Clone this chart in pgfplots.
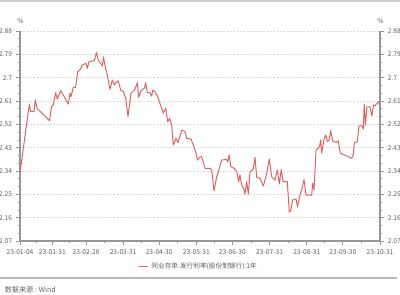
\documentclass[border=0pt]{standalone}
\usepackage{pgfplots}
\pgfplotsset{compat=1.18}
\usepackage{pgfplotstable}
\usepackage{fontspec}
\setmainfont{Noto Sans CJK SC}
\definecolor{linered}{RGB}{222,100,100}
\definecolor{axgray}{RGB}{150,150,150}
\definecolor{txtgray}{RGB}{95,95,95}
\definecolor{gridgray}{RGB}{218,218,218}

\pgfplotstableread{
day val
0 2.333
7.8 2.598
8.75 2.569
11.7 2.569
12.75 2.614
14.2 2.582
24.6 2.534
26.25 2.588
27.75 2.595
29.75 2.642
31.1 2.617
33.9 2.650
36.1 2.633
40.25 2.598
41.7 2.640
42.5 2.627
44.4 2.663
46.4 2.663
48.1 2.723
50 2.730
51.9 2.749
55 2.755
56.1 2.736
57.5 2.762
61.9 2.765
63.75 2.797
65.25 2.768
68.6 2.745
69.6 2.780
71.4 2.732
72.25 2.723
75 2.655
76.9 2.691
78.6 2.672
80.6 2.684
81.9 2.688
83.9 2.652
86.1 2.646
88.1 2.620
90 2.550
92.5 2.640
95.8 2.655
97.75 2.681
98.9 2.624
100.8 2.650
103.6 2.659
104.75 2.681
106.1 2.642
108.3 2.642
109.75 2.629
110.6 2.652
112.5 2.646
114.75 2.627
117.5 2.588
119.4 2.563
121.4 2.582
123.1 2.530
124.75 2.543
126.4 2.517
127.75 2.440
130 2.466
131.7 2.449
134.75 2.498
137.5 2.492
138.9 2.466
142.5 2.463
144.4 2.440
146.4 2.414
147.9 2.382
150 2.394
151.4 2.395
154.2 2.350
158.3 2.350
159.75 2.344
161.7 2.263
163.9 2.318
165.25 2.337
168.1 2.382
171.9 2.385
173.1 2.376
174.4 2.402
175.6 2.357
178.6 2.350
180.6 2.337
182.25 2.299
183.3 2.325
184.75 2.286
186.9 2.267
187.5 2.251
188.9 2.299
190.25 2.251
191.7 2.337
194.4 2.347
195.8 2.393
197.25 2.316
200 2.312
202.75 2.282
205 2.318
207.75 2.386
209.75 2.318
212.5 2.305
214.4 2.344
216.1 2.290
217.75 2.346
219.2 2.299
222.75 2.299
224.4 2.182
225.6 2.186
227.1 2.228
230 2.232
231.25 2.202
233.3 2.247
234.75 2.267
236.7 2.307
238.3 2.247
243.1 2.247
243.9 2.293
245 2.267
246.7 2.421
248.6 2.428
249.6 2.434
250.6 2.460
251.4 2.409
253.6 2.467
254.75 2.479
256.25 2.453
257.75 2.462
258.9 2.496
260.6 2.456
263.3 2.450
265.25 2.456
266.9 2.409
276.4 2.389
277.75 2.402
278.6 2.449
281.1 2.453
282.5 2.514
285 2.514
286.1 2.502
286.8 2.598
287.9 2.517
289 2.587
291.7 2.587
293.2 2.552
294.6 2.595
295.8 2.591
297.25 2.600
298.75 2.607
300 2.582
}\datatable

\begin{document}
\begin{tikzpicture}
\path[use as bounding box] (0,0) rectangle (300pt,221.25pt);
\draw[gray!40, line width=1.6pt] (0,220.2pt) -- (300pt,220.2pt);
\draw[gray!55, line width=0.8pt] (0,12.75pt) -- (298pt,12.75pt);
\node[anchor=west, text=txtgray, font=\fontsize{5.3}{6}\selectfont, inner sep=0pt] at (3.5pt,3.8pt) {数据来源 : Wind};
\node[text=txtgray, font=\fontsize{5}{6}\selectfont, inner sep=0pt] at (15.3pt,205.5pt) {\%};
\node[text=txtgray, font=\fontsize{5}{6}\selectfont, inner sep=0pt] at (285.3pt,205.5pt) {\%};

\pgfplotsset{
  commonax/.style={
    at={(15pt,40.5pt)}, anchor=south west, scale only axis,
    width=270pt, height=157.5pt,
    xmin=0, xmax=300, ymin=2.07, ymax=2.88,
    ytick={2.07,2.16,2.25,2.34,2.43,2.52,2.61,2.70,2.79,2.88},
    yticklabels={2.07,2.16,2.25,2.34,2.43,2.52,2.61,2.7,2.79,2.88},
    minor y tick num=2,
    tick align=outside,
    major tick length=3pt, minor tick length=1.8pt,
    every tick/.style={axgray, line width=0.5pt},
    axis line style={axgray, line width=0.9pt},
    tick label style={text=txtgray, font=\fontsize{5}{6}\selectfont},
    /pgf/number format/assume math mode=true,
  }
}

\begin{axis}[commonax,
  axis x line*=bottom, axis y line*=left,
  xtick={0,27,55,86,116,147,177,208,239,269,300},
  xticklabels={23-01-04,23-01-31,23-02-28,23-03-31,23-04-30,23-05-31,23-06-30,23-07-31,23-08-31,23-09-30,23-10-31},
  minor xtick={13.5,41,70.5,101,131.5,162,192.5,223.5,254,284.5},
  ymajorgrids, major grid style={gridgray, dashed, line width=0.4pt, dash pattern=on 1.5pt off 1pt},
  yticklabel style={xshift=0.6pt},
  xticklabel style={yshift=0.3pt},
  legend style={at={(0.497,-0.12)}, anchor=center, draw=none, fill=none,
    font=\fontsize{5}{6}\selectfont, text=txtgray, inner sep=0pt,
    /tikz/every even column/.append style={column sep=2pt}},
  legend image code/.code={\draw[#1, line width=0.8pt] (0pt,0pt) -- (7pt,0pt);},
]
\addplot[linered, line width=0.75pt, line join=round] table[x=day,y=val]{\datatable};
\addlegendentry{同业存单:发行利率(股份制银行):1年}
\end{axis}

\begin{axis}[commonax,
  axis y line*=right, axis x line=none,
  xtick=\empty,
  yticklabel style={xshift=-0.6pt},
]
\end{axis}
\end{tikzpicture}
\end{document}
